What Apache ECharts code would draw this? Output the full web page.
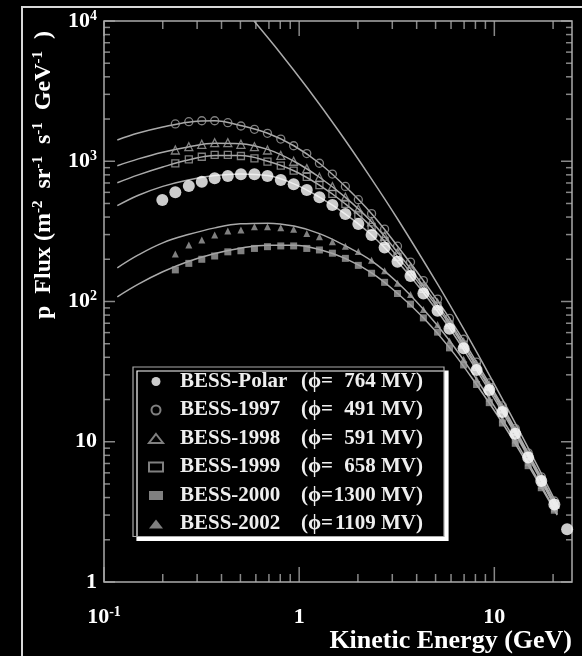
<!DOCTYPE html>
<html>
<head>
<meta charset="utf-8">
<title>BESS proton flux</title>
<script src="https://cdn.jsdelivr.net/npm/echarts@6.0.0/dist/echarts.min.js"></script>
<style>
html, body { margin: 0; padding: 0; background: #000; }
#main { width: 582px; height: 656px; }
</style>
</head>
<body>
<div id="main"></div>
<script>
// kinetic energy bins (GeV) and fluxes
const energyPolar = [0.199, 0.232, 0.272, 0.317, 0.369, 0.431, 0.503, 0.590, 0.688, 0.805,
  0.937, 1.094, 1.27, 1.48, 1.725, 2.01, 2.35, 2.74, 3.19, 3.72,
  4.33, 5.12, 5.89, 6.96, 8.11, 9.42, 11.0, 12.8, 14.9, 17.4, 20.3, 23.6]
const fluxPolar = [530, 601, 667, 715, 756, 785, 807, 807, 785, 735,
  685, 624, 553, 488, 421, 357, 298, 243, 192, 152,
  114, 86, 64, 46.4, 32.5, 23.4, 16.3, 11.4, 7.71, 5.25, 3.57, 2.38]

const energyBess = [0.232, 0.272, 0.317, 0.369, 0.431, 0.503, 0.590, 0.688, 0.805, 0.937,
  1.094, 1.27, 1.48, 1.725, 2.01, 2.35, 2.74, 3.19, 3.72, 4.33,
  5.12, 5.89, 6.96, 8.11, 9.42, 11.0, 12.8, 14.9, 17.4, 20.3]
const flux1997 = [1845, 1914, 1945, 1945, 1884, 1784, 1690, 1582, 1440, 1290,
  1135, 968, 810, 661, 532, 423, 328, 248, 191, 141,
  104, 75.8, 53.8, 37.0, 26.3, 18.0, 12.4, 8.33, 5.62, 3.78]
const flux1998 = [1203, 1270, 1321, 1356, 1356, 1321, 1270, 1203, 1100, 1000,
  886, 769, 659, 554, 457, 370, 292, 223, 174, 129,
  97.1, 71.4, 51.0, 35.3, 25.2, 17.4, 12.0, 8.08, 5.46, 3.69]
const flux1999 = [967, 1032, 1077, 1109, 1109, 1090, 1049, 993, 930, 856,
  774, 675, 586, 497, 415, 340, 271, 208, 164, 123,
  92.7, 68.5, 49.2, 34.2, 24.5, 17.0, 11.8, 7.93, 5.38, 3.64]
const flux2000 = [168, 187, 200, 211, 226, 230, 239, 246, 249, 249,
  239, 233, 221, 203, 181, 159, 137, 114, 95.8, 76.4,
  60.5, 46.7, 35.3, 25.6, 19.0, 13.6, 9.75, 6.75, 4.70, 3.25]
const flux2002 = [218, 253, 274, 298, 318, 324, 341, 341, 336, 327,
  306, 290, 267, 248, 227, 197, 166, 135, 112, 87.8,
  68.5, 52.2, 38.7, 27.9, 20.4, 14.5, 10.3, 7.08, 4.88, 3.36]

// modulated fit curves
const fitEnergy = [0.117, 0.15, 0.2, 0.27, 0.37, 0.5, 0.69, 0.94, 1.27, 1.72,
  2.35, 3.2, 4.33, 5.9, 8.1, 11, 14.9, 21]
const fitPolar = [482, 572, 662, 735, 790, 812, 790, 690, 555, 422,
  298, 192, 116, 64.5, 32.5, 16.3, 7.8, 3.2]
const fit1997 = [1418, 1589, 1754, 1900, 1945, 1800, 1585, 1290, 968, 663,
  423, 247, 141, 75.8, 37, 18, 8.35, 3.4]
const fit1998 = [929, 1040, 1160, 1265, 1345, 1335, 1215, 1000, 769, 555,
  370, 223, 129, 71.4, 35.3, 17.4, 8.1, 3.3]
const fit1999 = [703, 800, 910, 1020, 1100, 1100, 1000, 856, 675, 498,
  340, 208, 123, 68.5, 34.2, 17.0, 7.95, 3.25]
const fit2000 = [108, 133, 163, 193, 220, 240, 252, 252, 235, 203,
  160, 114, 76.5, 46.7, 25.6, 13.6, 6.8, 3.0]
const fit2002 = [174, 215, 262, 300, 335, 358, 362, 345, 305, 250,
  195, 136, 88, 52.5, 28, 14.5, 7.1, 3.05]

// interstellar spectrum
const lisEnergy = [0.587, 0.8, 1.1, 1.585, 2.3, 3.2, 5.12, 7.0, 9.9, 14, 21.5]
const lisFlux = [10000, 5920, 3340, 1663, 781, 386, 133, 62.9, 26.4, 10.7, 3.33]

const legendNames = ['BESS-Polar', 'BESS-1997', 'BESS-1998', 'BESS-1999', 'BESS-2000', 'BESS-2002']
const legendPhi = ['764', '491', '591', '658', '1300', '1109']

const xMajorTicks = [0.1, 1, 10]
const xTickLabels = ['10^-1', '1', '10']
const xMinorTicks = [0.2, 0.3, 0.4, 0.5, 0.6, 0.7, 0.8, 0.9, 2, 3, 4, 5, 6, 7, 8, 9, 20]
const yMajorTicks = [1, 10, 100, 1000, 10000]
const yTickLabels = ['1', '10', '10^2', '10^3', '10^4']
const yMinorTicks = [2, 3, 4, 5, 6, 7, 8, 9, 20, 30, 40, 50, 60, 70, 80, 90,
  200, 300, 400, 500, 600, 700, 800, 900, 2000, 3000, 4000, 5000, 6000, 7000, 8000, 9000]

const serif = '"Liberation Serif", "DejaVu Serif", serif'
const axisGrey = '#aaaaaa'
const dataGrey = '#a0a0a0'
const xRange = [0.1, 25]
const yRange = [1, 10000]
const gridBox = { left: 104, top: 21, right: 10, bottom: 74 }

const pairs = (xs, ys) => xs.map((x, i) => [x, ys[i]])

function toRich (s) {
  if (s.indexOf('^') < 0) return '{b|' + s + '}'
  const p = s.split('^')
  return '{b|' + p[0] + '}{e|' + p[1] + '}'
}
function labelFor (ticks, labels) {
  return function (v) {
    const i = ticks.findIndex(t => Math.abs(t - v) / t < 1e-6)
    return i < 0 ? '' : toRich(labels[i])
  }
}
const tickRich = {
  b: { fontSize: 22, fontWeight: 'bold', fontFamily: serif, color: '#fff', lineHeight: 24 },
  e: { fontSize: 14, fontWeight: 'bold', fontFamily: serif, color: '#fff', lineHeight: 12, verticalAlign: 'top' }
}

// inward ticks: thin bar symbols whose centre sits half a tick inside the frame
const xDecadePx = (582 - gridBox.left - gridBox.right) / Math.log10(xRange[1] / xRange[0])
const yDecadePx = (656 - gridBox.top - gridBox.bottom) / Math.log10(yRange[1] / yRange[0])
function tickMarks (name, values, side) {
  const isX = side === 'bottom' || side === 'top'
  const majors = isX ? xMajorTicks : yMajorTicks
  return {
    name: name,
    type: 'scatter',
    silent: true,
    clip: false,
    z: 5,
    symbol: 'rect',
    itemStyle: { color: axisGrey },
    data: values.map(function (v) {
      const major = majors.indexOf(v) >= 0
      const len = isX ? (major ? 15 : 8) : (major ? 11 : 6)
      const fy = Math.pow(10, len / 2 / yDecadePx)
      const fx = Math.pow(10, len / 2 / xDecadePx)
      let value, size
      if (side === 'bottom') { value = [v, yRange[0] * fy]; size = [1.5, len] }
      if (side === 'top') { value = [v, yRange[1] / fy]; size = [1.5, len] }
      if (side === 'left') { value = [xRange[0] * fx, v]; size = [len, 1.5] }
      if (side === 'right') { value = [xRange[1] / fx, v]; size = [len, 1.5] }
      return { value: value, symbolSize: size }
    })
  }
}
const xTicksAll = xMajorTicks.concat(xMinorTicks)
const yTicksAll = yMajorTicks.concat(yMinorTicks)

function fitLine (name, ys) {
  return {
    name: name,
    type: 'line',
    silent: true,
    smooth: 0.4,
    showSymbol: false,
    z: 2,
    lineStyle: { color: axisGrey, width: 1.5 },
    data: pairs(fitEnergy, ys)
  }
}

function openStyle () {
  return { color: 'transparent', borderColor: dataGrey, borderWidth: 1.3 }
}

const chartDom = document.getElementById('main')
const myChart = echarts.init(chartDom)

const option = {
  backgroundColor: '#000',
  animation: false,
  grid: {
    left: gridBox.left,
    top: gridBox.top,
    right: gridBox.right,
    bottom: gridBox.bottom,
    show: true,
    backgroundColor: 'transparent',
    borderColor: axisGrey,
    borderWidth: 1.5,
    containLabel: false,
    outerBoundsMode: 'none'
  },
  xAxis: {
    type: 'log',
    logBase: 10,
    min: xRange[0],
    max: xRange[1],
    axisLine: { show: false },
    axisTick: { show: false },
    splitLine: { show: false },
    axisLabel: {
      customValues: xMajorTicks,
      margin: 23,
      formatter: labelFor(xMajorTicks, xTickLabels),
      rich: tickRich
    }
  },
  yAxis: {
    type: 'log',
    logBase: 10,
    min: yRange[0],
    max: yRange[1],
    axisLine: { show: false },
    axisTick: { show: false },
    splitLine: { show: false },
    axisLabel: {
      customValues: yMajorTicks,
      margin: 7,
      formatter: labelFor(yMajorTicks, yTickLabels),
      rich: tickRich
    }
  },
  legend: {
    data: legendNames,
    orient: 'vertical',
    left: 133,
    top: 367,
    padding: [4, 21, 2, 15],
    itemGap: 7.5,
    itemWidth: 14,
    itemHeight: 9,
    selectedMode: false,
    backgroundColor: '#000',
    borderColor: axisGrey,
    borderWidth: 1.2,
    shadowColor: '#ffffff',
    shadowBlur: 0,
    shadowOffsetX: 4,
    shadowOffsetY: 4,
    formatter: function (name) {
      const phi = legendPhi[legendNames.indexOf(name)]
      return '{n|' + name + '}{p|(ϕ=}{v|' + phi + ' MV)}'
    },
    textStyle: {
      color: '#eee',
      fontFamily: serif,
      fontWeight: 'bold',
      fontSize: 21,
      rich: {
        n: { width: 121, padding: [0, 0, 0, 12], fontFamily: serif, fontWeight: 'bold', fontSize: 21, lineHeight: 22, color: '#eee' },
        p: { width: 36, fontFamily: serif, fontWeight: 'bold', fontSize: 21, lineHeight: 22, color: '#eee' },
        v: { width: 86, align: 'right', fontFamily: serif, fontWeight: 'bold', fontSize: 21, lineHeight: 22, color: '#eee' }
      }
    }
  },
  graphic: [
    {
      type: 'rect',
      silent: true,
      shape: { x: 22, y: 7, width: 620, height: 700 },
      style: { fill: 'none', stroke: '#d8d8d8', lineWidth: 2 }
    },
    {
      type: 'text',
      x: 44,
      y: 175,
      rotation: Math.PI / 2,
      silent: true,
      style: {
        text: '{t|p  Flux (m}{s|-2}{t|  sr}{s|-1}{t|  s}{s|-1}{t|  GeV}{s|-1}{t|  )}',
        align: 'center',
        verticalAlign: 'middle',
        textAlign: 'center',
        textVerticalAlign: 'middle',
        rich: {
          t: { fill: '#fff', fontFamily: serif, fontWeight: 'bold', fontSize: 24, lineHeight: 26 },
          s: { fill: '#fff', fontFamily: serif, fontWeight: 'bold', fontSize: 15, lineHeight: 14, verticalAlign: 'top' }
        }
      }
    },
    {
      type: 'text',
      x: 572,
      y: 641,
      silent: true,
      style: {
        text: 'Kinetic Energy (GeV)',
        fill: '#fff',
        font: 'bold 26px ' + serif,
        align: 'right',
        verticalAlign: 'middle',
        textAlign: 'right',
        textVerticalAlign: 'middle'
      }
    }
  ],
  series: [
    tickMarks('tick-bottom', xTicksAll, 'bottom'),
    tickMarks('tick-top', xTicksAll, 'top'),
    tickMarks('tick-left', yTicksAll, 'left'),
    tickMarks('tick-right', yTicksAll, 'right'),
    {
      name: 'LIS',
      type: 'line',
      silent: true,
      smooth: 0.4,
      showSymbol: false,
      z: 2,
      lineStyle: { color: axisGrey, width: 1.5 },
      data: pairs(lisEnergy, lisFlux)
    },
    fitLine('fit-1997', fit1997),
    fitLine('fit-1998', fit1998),
    fitLine('fit-1999', fit1999),
    fitLine('fit-Polar', fitPolar),
    fitLine('fit-2002', fit2002),
    fitLine('fit-2000', fit2000),
    {
      name: 'BESS-1997',
      type: 'scatter',
      symbol: 'circle',
      symbolSize: 8,
      z: 3,
      itemStyle: openStyle(),
      data: pairs(energyBess, flux1997)
    },
    {
      name: 'BESS-1998',
      type: 'scatter',
      symbol: 'triangle',
      symbolSize: 8,
      z: 3,
      itemStyle: openStyle(),
      data: pairs(energyBess, flux1998)
    },
    {
      name: 'BESS-1999',
      type: 'scatter',
      symbol: 'rect',
      symbolSize: 7,
      z: 3,
      itemStyle: openStyle(),
      data: pairs(energyBess, flux1999)
    },
    {
      name: 'BESS-2000',
      type: 'scatter',
      symbol: 'rect',
      symbolSize: 7,
      z: 3,
      itemStyle: { color: dataGrey },
      data: pairs(energyBess, flux2000)
    },
    {
      name: 'BESS-2002',
      type: 'scatter',
      symbol: 'triangle',
      symbolSize: 7,
      z: 3,
      itemStyle: { color: dataGrey },
      data: pairs(energyBess, flux2002)
    },
    {
      name: 'BESS-Polar',
      type: 'scatter',
      symbol: 'circle',
      symbolSize: 12,
      z: 4,
      itemStyle: { color: '#ffffff' },
      data: pairs(energyPolar, fluxPolar)
    }
  ]
}
option && myChart.setOption(option)
</script>
</body>
</html>
